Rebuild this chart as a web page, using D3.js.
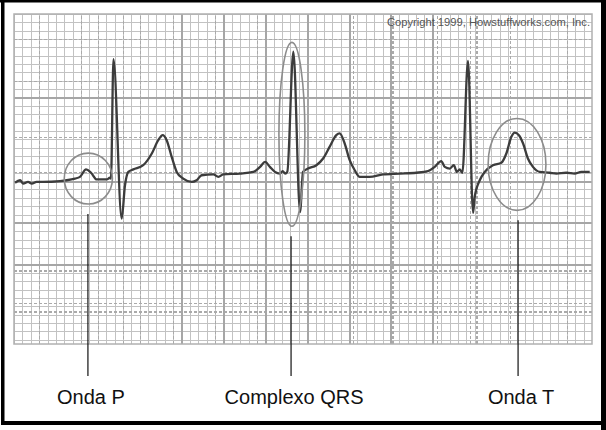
<!DOCTYPE html>
<html>
<head>
<meta charset="utf-8">
<script src="https://cdn.jsdelivr.net/npm/d3@7"></script>
<style>
  body { margin: 0; background: #fff; }
  svg { display: block; font-family: "Liberation Sans", Arial, sans-serif; }
  .grid .domain { display: none; }
  .grid line { shape-rendering: crispEdges; }
</style>
</head>
<body>
<script>

const svgWidth = 606;
const svgHeight = 430;

// where the ECG paper sits inside the frame
const paper = { left: 14, top: 14, right: 592, bottom: 344 };

// Data: one strip of ECG, time in seconds and amplitude in mV
const traceTime = [
  0.005, 0.029, 0.044, 0.067, 0.085, 0.108, 0.138, 0.220, 0.252, 0.291,
  0.315, 0.344, 0.368, 0.395, 0.443, 0.458, 0.463, 0.475, 0.514, 0.530,
  0.546, 0.570, 0.617, 0.658, 0.689, 0.710, 0.729, 0.753, 0.777, 0.808,
  0.849, 0.872, 0.896, 0.952, 0.976, 0.999, 1.079, 1.143, 1.175, 1.199,
  1.222, 1.246, 1.270, 1.283, 1.295, 1.305, 1.334, 1.366, 1.380, 1.404,
  1.444, 1.476, 1.507, 1.539, 1.555, 1.579, 1.603, 1.627, 1.651, 1.698,
  1.762, 1.842, 1.921, 1.977, 2.009, 2.040, 2.057, 2.081, 2.100, 2.115,
  2.128, 2.141, 2.168, 2.192, 2.200, 2.224, 2.248, 2.287, 2.327, 2.351,
  2.375, 2.391, 2.411, 2.431, 2.454, 2.478, 2.510, 2.558, 2.590, 2.637,
  2.677, 2.709, 2.749
];
const traceMv = [
  -0.02, 0.01, -0.03, -0.01, -0.03, -0.01, -0.01, 0.00, 0.01, 0.03,
  0.05, 0.14, 0.10, 0.02, 0.02, 0.04, 0.03, 1.46, -0.45, -0.05,
  0.11, 0.14, 0.19, 0.33, 0.49, 0.55, 0.49, 0.29, 0.11, 0.03,
  -0.01, 0.01, 0.07, 0.08, 0.05, 0.08, 0.09, 0.11, 0.17, 0.23,
  0.17, 0.11, 0.09, 0.12, 0.09, 0.11, 1.55, -0.37, 0.11, 0.15,
  0.19, 0.27, 0.41, 0.55, 0.57, 0.45, 0.25, 0.13, 0.05, 0.05,
  0.08, 0.09, 0.10, 0.12, 0.17, 0.24, 0.17, 0.15, 0.19, 0.11,
  0.14, 0.10, 1.44, -0.38, -0.19, 0.01, 0.11, 0.19, 0.22, 0.33,
  0.53, 0.58, 0.55, 0.45, 0.27, 0.17, 0.11, 0.10, 0.09, 0.10,
  0.09, 0.11, 0.11
];

// the circled waves and their labels
const waveLabels = ["Onda P", "Complexo QRS", "Onda T"];
const waveTime = [0.355, 1.327, 2.402];
const waveMv = [0.03, 0.56, 0.20];
const waveHalfTime = [0.115, 0.062, 0.138];
const waveHalfMv = [0.305, 1.10, 0.55];
const pointerTime = [0.353, 1.323, 2.407];

// ECG paper: 1 mm = 0.04 s across, 0.1 mV up
const paperSeconds = 2.76;
const paperMvTop = 2.0;
const paperMvBottom = -1.95;
const heavyColsMm = [20, 25, 30, 35, 40, 45, 50];
const dashedColsMm = [3, 8, 10, 13, 15, 19, 24, 29, 40.5, 45.2, 50.5, 54.4, 55.2, 59.2, 66];
const heavyRowsMm = [10, 20, 25, 30];
const dashedRowsMm = [3, 8, 14.7, 18.9, 30.7, 34.6, 35.6];

const copyrightText = "Copyright 1999, Howstuffworks.com, Inc.";

// create svg container
const svg = d3
  .select("body")
  .append("svg")
  .attr("width", svgWidth)
  .attr("height", svgHeight);

svg.append("rect")
  .attr("width", svgWidth)
  .attr("height", svgHeight)
  .attr("fill", "#fff");

// scales
const xScale = d3.scaleLinear()
  .domain([0, paperSeconds])
  .range([paper.left, paper.right]);

const yScale = d3.scaleLinear()
  .domain([paperMvBottom, paperMvTop])
  .range([paper.bottom, paper.top]);

const paperHeight = paper.bottom - paper.top;
const paperWidth = paper.right - paper.left;

const mmToTime = mm => mm * 0.04;
const mmToMv = mm => paperMvTop - mm * 0.1;

// grid drawn with axes, one group per line style
function gridCols(values, color, width, dash) {
  const g = svg.append("g")
    .attr("class", "grid")
    .attr("transform", `translate(0, ${paper.bottom})`)
    .call(d3.axisBottom(xScale).tickValues(values).tickSize(-paperHeight).tickFormat(""));
  g.selectAll("line")
    .attr("stroke", color)
    .attr("stroke-width", width)
    .attr("stroke-dasharray", dash);
}

function gridRows(values, color, width, dash) {
  const g = svg.append("g")
    .attr("class", "grid")
    .attr("transform", `translate(${paper.left}, 0)`)
    .call(d3.axisLeft(yScale).tickValues(values).tickSize(-paperWidth).tickFormat(""));
  g.selectAll("line")
    .attr("stroke", color)
    .attr("stroke-width", width)
    .attr("stroke-dasharray", dash);
}

const minorCols = d3.range(0, 70).map(mmToTime).filter(t => t <= paperSeconds);
const minorRows = d3.range(0, 40).map(mmToMv).filter(v => v >= paperMvBottom);

gridCols(minorCols, "#c2c2c2", 1, null);
gridRows(minorRows, "#c2c2c2", 1, null);
gridCols(dashedColsMm.map(mmToTime), "#aaaaaa", 1.3, "3,2");
gridRows(dashedRowsMm.map(mmToMv), "#aaaaaa", 1.3, "3,2");
gridCols(heavyColsMm.map(mmToTime), "#a6a6a6", 2, null);
gridRows(heavyRowsMm.map(mmToMv), "#a6a6a6", 2, null);

// paper edge
svg.append("rect")
  .attr("x", xScale(0))
  .attr("y", yScale(paperMvTop))
  .attr("width", xScale(paperSeconds) - xScale(0))
  .attr("height", yScale(paperMvBottom) - yScale(paperMvTop))
  .attr("fill", "none")
  .attr("stroke", "#b0b0b0")
  .attr("stroke-width", 1.5);

svg.append("text")
  .attr("x", paper.right - 2)
  .attr("y", 26)
  .attr("text-anchor", "end")
  .attr("font-size", 11.2)
  .attr("fill", "#555")
  .text(copyrightText);

// the trace
const trace = traceTime.map((t, i) => ({ t: t, mv: traceMv[i] }));

const line = d3.line()
  .x(d => xScale(d.t))
  .y(d => yScale(d.mv))
  .curve(d3.curveMonotoneX);

svg.append("path")
  .datum(trace)
  .attr("d", line)
  .attr("fill", "none")
  .attr("stroke", "#3c3c3c")
  .attr("stroke-width", 2.3)
  .attr("stroke-linejoin", "round");

// circles round the waves
svg.selectAll(".wave")
  .data(waveLabels)
  .enter()
  .append("ellipse")
  .attr("class", "wave")
  .attr("cx", (d, i) => xScale(waveTime[i]))
  .attr("cy", (d, i) => yScale(waveMv[i]))
  .attr("rx", (d, i) => xScale(waveHalfTime[i]) - xScale(0))
  .attr("ry", (d, i) => yScale(0) - yScale(waveHalfMv[i]))
  .attr("fill", "none")
  .attr("stroke", "#8c8c8c")
  .attr("stroke-width", 1.6);

// pointers and labels
const pointerEnd = 376;
const labelBaseline = 404;

svg.selectAll(".pointer")
  .data(waveLabels)
  .enter()
  .append("line")
  .attr("class", "pointer")
  .attr("x1", (d, i) => xScale(pointerTime[i]))
  .attr("x2", (d, i) => xScale(pointerTime[i]))
  .attr("y1", (d, i) => yScale(waveMv[i] - waveHalfMv[i]) + 10)
  .attr("y2", pointerEnd)
  .attr("stroke", "#111")
  .attr("stroke-width", 1.2);

svg.selectAll(".label")
  .data(waveLabels)
  .enter()
  .append("text")
  .attr("class", "label")
  .attr("x", (d, i) => xScale(pointerTime[i]) + 3)
  .attr("y", labelBaseline)
  .attr("text-anchor", "middle")
  .attr("font-size", 20)
  .attr("fill", "#111")
  .text(d => d);

// black frame, heavier on the right
svg.append("rect").attr("x", 0).attr("y", 0).attr("width", svgWidth).attr("height", 2.5).attr("fill", "#000");
svg.append("rect").attr("x", 1).attr("y", 0).attr("width", 3.5).attr("height", 425).attr("fill", "#000");
svg.append("rect").attr("x", 601).attr("y", 0).attr("width", 5).attr("height", svgHeight).attr("fill", "#000");
svg.append("rect").attr("x", 1).attr("y", 421).attr("width", 605).attr("height", 4).attr("fill", "#000");

</script>
</body>
</html>
